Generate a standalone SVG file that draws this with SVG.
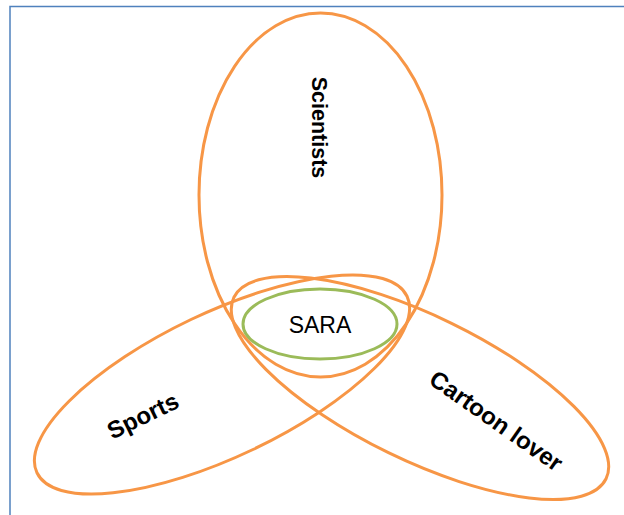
<svg xmlns="http://www.w3.org/2000/svg" width="624" height="515" viewBox="0 0 624 515">
<style>
.set{fill:none;stroke:#F79646;stroke-width:3}
.core{fill:none;stroke:#9BBB59;stroke-width:3}
.lbl{font-family:"Liberation Sans",Arial,sans-serif;font-weight:bold;fill:#000;text-anchor:middle}
.sara{font-family:"Liberation Sans",Arial,sans-serif;fill:#000;text-anchor:middle;font-size:23px}
</style>
<rect width="624" height="515" fill="#fff"/>
<path d="M10,515 V6.5 H624" fill="none" stroke="#4F81BD" stroke-width="1.5"/>
<g id="scientists">
<ellipse class="set" cx="320.5" cy="195" rx="121.5" ry="182"/>
<text class="lbl" font-size="21.5" transform="translate(312,127.5) rotate(90)">Scientists</text>
</g>
<g id="sports">
<ellipse class="set" cx="222" cy="384.5" rx="205" ry="72" transform="rotate(-25.5 222 384.5)"/>
<text class="lbl" font-size="24" transform="translate(143,416) rotate(-26) translate(0,8)">Sports</text>
</g>
<g id="cartoon">
<ellipse class="set" cx="420" cy="388" rx="207" ry="72" transform="rotate(26 420 388)"/>
<text class="lbl" font-size="24" transform="translate(496,421) rotate(35) translate(0,8)">Cartoon lover</text>
</g>
<g id="sara">
<ellipse class="core" cx="320" cy="324" rx="77" ry="35"/>
<text class="sara" x="320" y="333">SARA</text>
</g>
<g id="connectors"/>
</svg>
